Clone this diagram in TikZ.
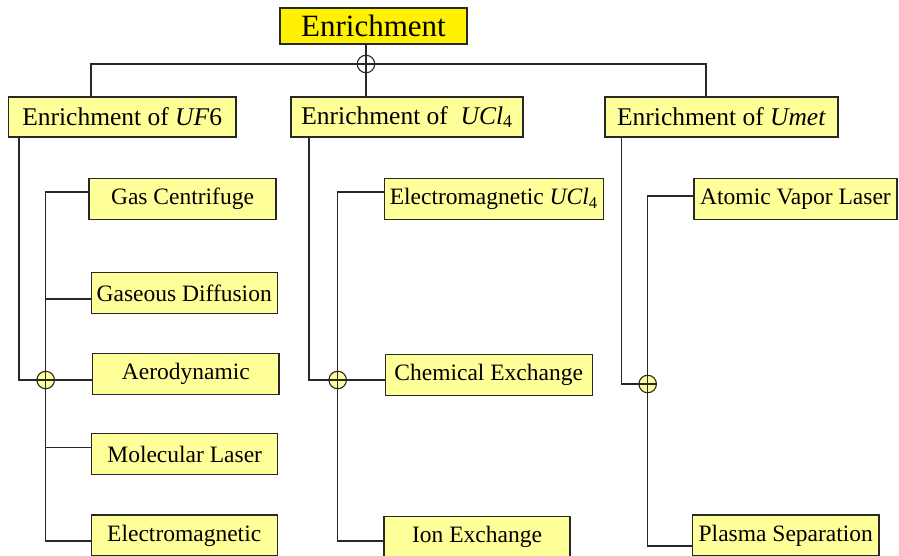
\documentclass[tikz,border=0pt]{standalone}
\usepackage{fontspec}
\setmainfont{Liberation Serif}

\definecolor{paleyellow}{RGB}{255,255,153}
\definecolor{linegray}{RGB}{40,40,40}

\begin{document}
\begin{tikzpicture}[x=1pt, y=-1pt, line width=1.1pt, draw=linegray,
    topbox/.style={draw=linegray, fill=yellow, inner sep=0pt, minimum width=187pt, minimum height=36pt, font=\fontsize{31}{36}\selectfont},
    midbox/.style={draw=linegray, fill=paleyellow, inner sep=0pt, minimum height=40pt, font=\fontsize{25.5}{30}\selectfont},
    leafbox/.style={draw=linegray, fill=paleyellow, inner sep=0pt, minimum height=41pt, font=\fontsize{23.5}{28}\selectfont},
    junction/.style={circle, draw=linegray, fill=paleyellow, inner sep=0pt, minimum size=17.5pt,
        path picture={\draw[linegray, line width=1.1pt] (path picture bounding box.north) -- (path picture bounding box.south)
            (path picture bounding box.west) -- (path picture bounding box.east);}}]
    \useasboundingbox (0,0) rectangle (899,555);

    % Top box
    \node[topbox] (enr) at (373.5,26) {Enrichment};
    \coordinate (j0) at (366,64);
    \coordinate (busL) at (91,64);
    \coordinate (busR) at (706,64);

    % Second row
    \node[midbox, minimum width=227.5pt] (uf) at (122.25,117) {Enrichment of \textit{UF}6};
    \node[midbox, minimum width=232pt] (ucl) at (407,117) {Enrichment of\ \ \textit{UCl}\textsubscript{4}};
    \node[midbox, minimum width=233pt] (umet) at (721.5,117) {Enrichment of \textit{Umet}};

    \draw (busL |- uf.north) -- (busL) -- (busR) -- (busR |- umet.north); % bus
    \draw (j0 |- enr.south) -- (j0 |- ucl.north);

    % UF6 methods
    \node[leafbox, minimum width=187pt] (gc) at (182.5,198.8) {Gas Centrifuge};
    \node[leafbox, minimum width=186.3pt] (gd) at (184.2,293) {Gaseous Diffusion};
    \node[leafbox, minimum width=186.3pt] (aero) at (185.8,373.7) {Aerodynamic};
    \node[leafbox, minimum width=186pt] (ml) at (184.7,454.3) {Molecular Laser};
    \node[leafbox, minimum width=186.3pt] (em) at (184.2,535.5) {Electromagnetic};

    \coordinate (d1) at (19,380);
    \coordinate (j1) at (45.7,380);
    \coordinate (t1) at (45.7,192);
    \coordinate (k1) at (45.7,299);
    \coordinate (k2) at (45.7,447.3);
    \coordinate (b1) at (45.7,541);
    \draw (d1 |- uf.south) -- (d1) -- (j1 -| aero.west);
    \draw (t1 -| gc.west) -- (t1) -- (b1) -- (b1 -| em.west); % trunk
    \draw (k1) -- (k1 -| gd.west);
    \draw (k2) -- (k2 -| ml.west);

    % UCl4 methods
    \node[leafbox, minimum width=219.3pt] (emu) at (493.7,198.8) {Electromagnetic \textit{UCl}\textsubscript{4}};
    \node[leafbox, minimum width=207.3pt] (chem) at (488.7,375.3) {Chemical Exchange};
    \node[leafbox, minimum width=186pt] (ion) at (477,537.2) {Ion Exchange};

    \coordinate (d2) at (309,380);
    \coordinate (j2) at (337.7,380);
    \coordinate (t2) at (337.7,192);
    \coordinate (b2) at (337.7,541);
    \draw (d2 |- ucl.south) -- (d2) -- (j2 -| chem.west);
    \draw (t2 -| emu.west) -- (t2) -- (b2) -- (b2 -| ion.west); % trunk

    % Umet methods
    \node[leafbox, minimum width=203pt] (avl) at (795.5,198.8) {Atomic Vapor Laser};
    \node[leafbox, minimum width=186.3pt] (plasma) at (785.8,535.5) {Plasma Separation};

    \coordinate (d3) at (621.7,384);
    \coordinate (j3) at (647.7,384);
    \coordinate (t3) at (647.7,196);
    \coordinate (b3) at (647.7,546);
    \draw (d3 |- umet.south) -- (d3) -- (j3);
    \draw (t3 -| avl.west) -- (t3) -- (b3) -- (b3 -| plasma.west); % trunk

    % Junctions
    \node[junction, fill=white] (c0) at (j0) {};
    \node[junction] (c1) at (j1) {};
    \node[junction] (c2) at (j2) {};
    \node[junction] (c3) at (j3) {};
\end{tikzpicture}
\end{document}
